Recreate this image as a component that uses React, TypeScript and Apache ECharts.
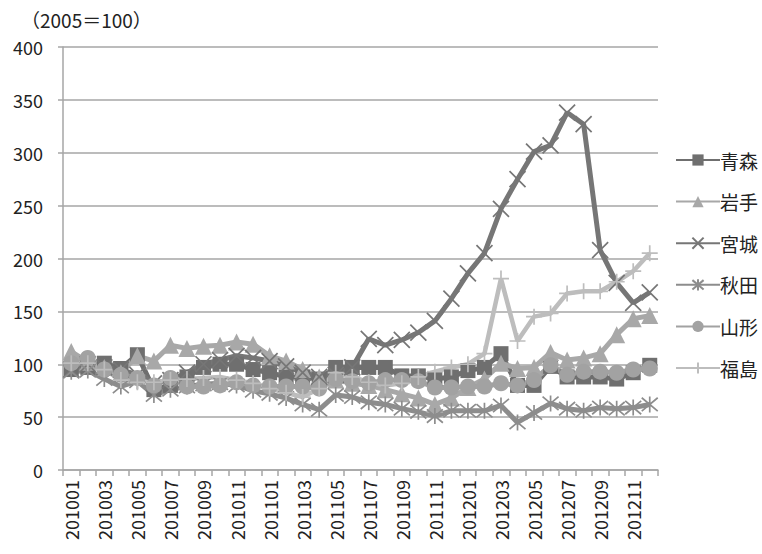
import React, { useEffect, useRef } from "react";
import * as echarts from "echarts";

// Monthly index (2005 = 100), Jan 2010 – Dec 2012
const months = [
  "201001", "201002", "201003", "201004", "201005", "201006",
  "201007", "201008", "201009", "201010", "201011", "201012",
  "201101", "201102", "201103", "201104", "201105", "201106",
  "201107", "201108", "201109", "201110", "201111", "201112",
  "201201", "201202", "201203", "201204", "201205", "201206",
  "201207", "201208", "201209", "201210", "201211", "201212",
];

const aomori = [95, 97, 101, 96, 109, 76, 80, 88, 97, 100, 100, 95, 92, 88, 88, 86, 97, 97, 97, 97, 89, 89, 86, 88, 94, 97, 110, 80, 80, 98, 88, 88, 88, 86, 92, 99];
const iwate = [112, 102, 97, 92, 108, 103, 118, 115, 117, 118, 121, 119, 108, 103, 95, 88, 85, 82, 80, 76, 72, 68, 62, 68, 78, 86, 101, 96, 97, 111, 104, 106, 110, 128, 143, 146];
const miyagi = [95, 100, 97, 95, 90, 82, 85, 92, 100, 104, 108, 106, 103, 98, 92, 88, 90, 97, 124, 118, 123, 130, 141, 162, 186, 205, 247, 275, 301, 307, 338, 327, 208, 177, 158, 168];
const akita = [93, 94, 86, 79, 84, 71, 76, 79, 81, 82, 80, 75, 72, 68, 62, 57, 71, 69, 64, 62, 58, 55, 51, 56, 56, 56, 61, 45, 54, 63, 58, 56, 59, 58, 59, 62];
const yamagata = [101, 106, 95, 90, 87, 80, 87, 79, 79, 80, 83, 80, 79, 79, 79, 77, 86, 84, 82, 85, 85, 84, 78, 78, 79, 79, 82, 80, 85, 99, 90, 93, 93, 92, 95, 96];
const fukushima = [101, 101, 95, 85, 83, 83, 85, 86, 87, 88, 85, 82, 77, 73, 69, 77, 92, 88, 83, 80, 82, 88, 93, 97, 100, 110, 181, 122, 145, 148, 167, 169, 169, 178, 188, 205];

const yTicks = { min: 0, max: 400, interval: 50 };

const FONT = "'Noto Sans CJK JP', 'Noto Sans', sans-serif";

// Stroke-only marker shapes
const CROSS_X = "path://M0,0L10,10M10,0L0,10";
const STAR = "path://M0,0L10,10M10,0L0,10M5,-1L5,11";
const PLUS = "path://M5,0L5,10M0,5L10,5";

type SeriesDef = {
  name: string;
  data: number[];
  color: string;
  symbol: string;
  size: number;
  stroke?: number;
  width: number;
};

const seriesDefs: SeriesDef[] = [
  { name: "青森", data: aomori, color: "#6f6f6f", symbol: "rect", size: 15, width: 5 },
  { name: "岩手", data: iwate, color: "#a8a8a8", symbol: "triangle", size: 17, width: 5 },
  { name: "宮城", data: miyagi, color: "#767676", symbol: CROSS_X, size: 16, stroke: 1.7, width: 5 },
  { name: "秋田", data: akita, color: "#8d8d8d", symbol: STAR, size: 16, stroke: 1.7, width: 5 },
  { name: "山形", data: yamagata, color: "#a2a2a2", symbol: "circle", size: 16, width: 5 },
  { name: "福島", data: fukushima, color: "#bdbdbd", symbol: PLUS, size: 16, stroke: 1.7, width: 4.5 },
];

export default function App() {
  const ref = useRef<HTMLDivElement>(null);

  useEffect(() => {
    document.body.style.margin = "0";
    if (!ref.current) return;
    const chart = echarts.init(ref.current, undefined, { renderer: "svg" });

    chart.setOption({
      animation: false,
      backgroundColor: "#ffffff",
      textStyle: { fontFamily: FONT },
      title: {
        text: "（2005＝100）",
        left: 16,
        top: 5,
        textStyle: { fontSize: 19, fontWeight: "normal", color: "#222", fontFamily: FONT },
      },
      legend: {
        orient: "vertical",
        left: 670,
        top: 145,
        itemWidth: 44,
        itemHeight: 14,
        itemGap: 21.6,
        textStyle: {
          fontSize: 19,
          lineHeight: 20,
          color: "#222",
          fontFamily: FONT,
          padding: [0, 0, 0, -5],
        },
        data: seriesDefs.map((s) => s.name),
      },
      grid: { left: 63, right: 104, top: 47, bottom: 84, containLabel: false },
      xAxis: {
        type: "category",
        data: months,
        boundaryGap: true,
        axisLine: { lineStyle: { color: "#a6a6a6", width: 1.5 } },
        axisTick: { show: true, interval: 0, length: 6, lineStyle: { color: "#a6a6a6", width: 1.5 } },
        axisLabel: {
          interval: 1,
          rotate: 90,
          fontSize: 18,
          color: "#222",
          margin: 10,
          fontFamily: FONT,
        },
        splitLine: { show: false },
      },
      yAxis: {
        type: "value",
        min: yTicks.min,
        max: yTicks.max,
        interval: yTicks.interval,
        axisLine: { show: true, lineStyle: { color: "#a6a6a6", width: 1.5 } },
        axisTick: { show: true, length: 5, lineStyle: { color: "#a6a6a6", width: 1.5 } },
        axisLabel: { fontSize: 18, color: "#222", margin: 20, fontFamily: FONT },
        splitLine: { show: true, lineStyle: { color: "#a6a6a6", width: 1.5 } },
      },
      series: seriesDefs.map((s) => ({
        name: s.name,
        type: "line",
        data: s.data,
        symbol: s.symbol,
        symbolSize: s.size,
        showAllSymbol: true,
        lineStyle: { color: s.color, width: s.width },
        itemStyle: s.stroke
          ? { color: s.color, borderColor: s.color, borderWidth: s.stroke }
          : { color: s.color, borderWidth: 0 },
        emphasis: { disabled: true },
      })),
    });

    return () => chart.dispose();
  }, []);

  return (
    <div
      ref={ref}
      style={{ position: "absolute", left: 0, top: 0, width: 762, height: 554 }}
    />
  );
}
